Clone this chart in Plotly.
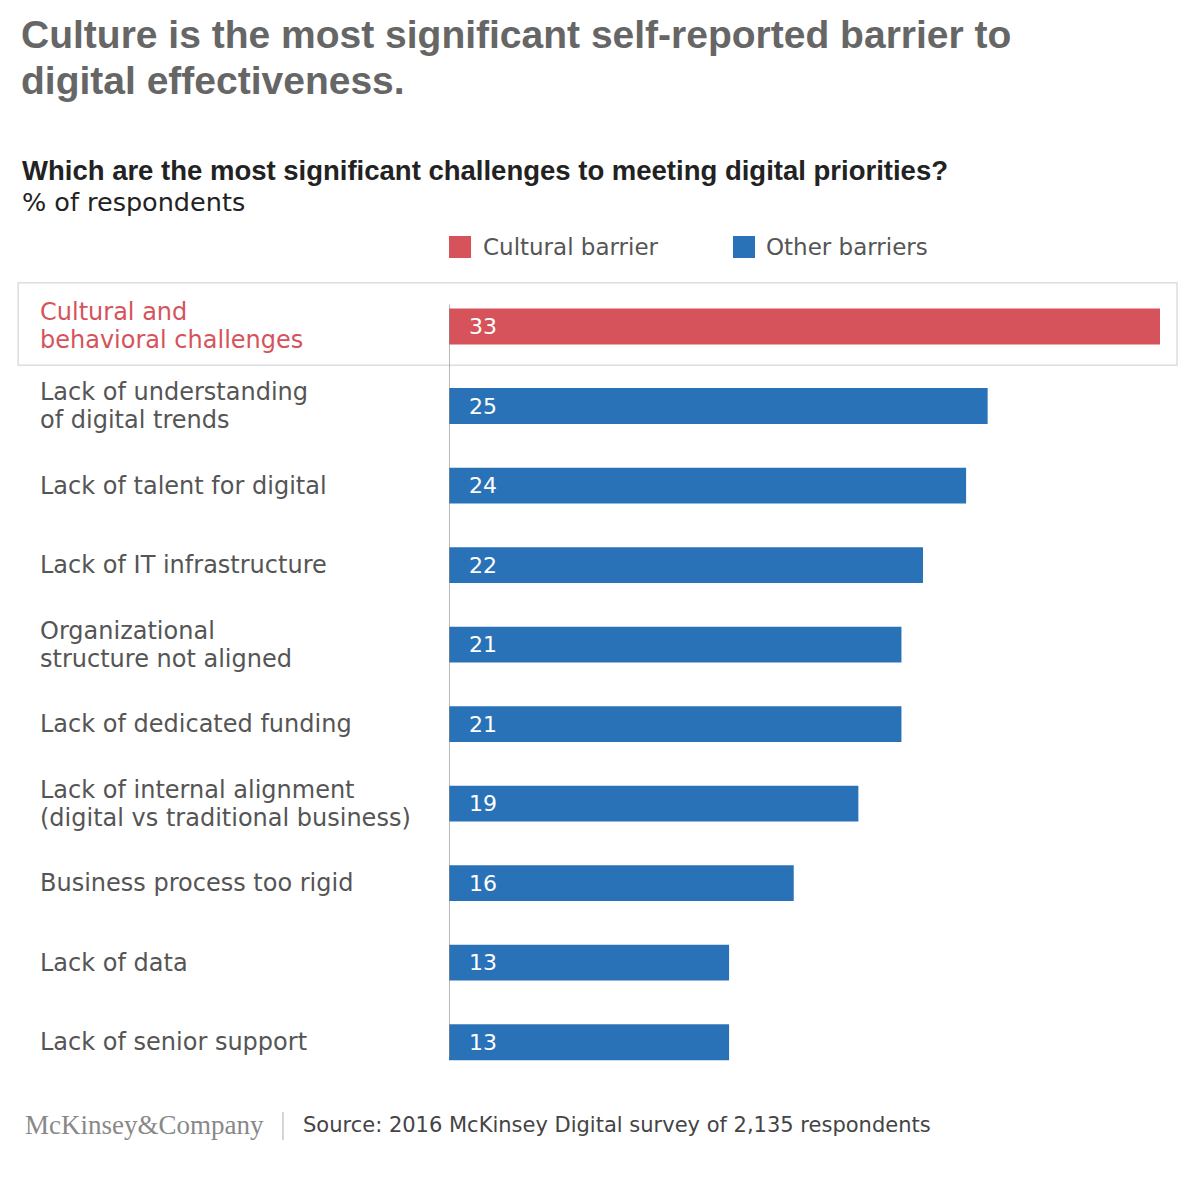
import plotly.graph_objects as go

# Data
categories = [
    "Cultural and<br>behavioral challenges",
    "Lack of understanding<br>of digital trends",
    "Lack of talent for digital",
    "Lack of IT infrastructure",
    "Organizational<br>structure not aligned",
    "Lack of dedicated funding",
    "Lack of internal alignment<br>(digital vs traditional business)",
    "Business process too rigid",
    "Lack of data",
    "Lack of senior support",
]
values = [33, 25, 24, 22, 21, 21, 19, 16, 13, 13]
barrier_type = ["Cultural barrier"] + ["Other barriers"] * 9

RED = "#D6535C"
BLUE = "#2A72B8"
GREY_TEXT = "#555555"
FONT = "DejaVu Sans, sans-serif"
TFONT = "Liberation Sans, Arial, sans-serif"

keys = [str(i) for i in range(len(categories))]
colors = [RED if b == "Cultural barrier" else BLUE for b in barrier_type]

fig = go.Figure()
fig.add_bar(
    x=values, y=keys, orientation="h",
    marker=dict(color=colors, line=dict(width=0)),
    width=0.45, showlegend=False, hoverinfo="x",
)

# value labels inside bars
for k, v in zip(keys, values):
    fig.add_annotation(x=0, y=k, xref="x", yref="y", text=str(v), showarrow=False,
                       xanchor="left", yanchor="middle", xshift=18,
                       font=dict(size=22, color="white", family=FONT))

# category labels on the left, one annotation per line (tighter line spacing)
for k, c, b in zip(keys, categories, barrier_type):
    lines = c.split("<br>")
    n = len(lines)
    for i, line in enumerate(lines):
        fig.add_annotation(x=-0.578, y=k, xref="paper", yref="y", text=line, showarrow=False,
                           xanchor="left", yanchor="middle", align="left",
                           yshift=(n - 1) / 2 * 28 - i * 28,
                           font=dict(size=24, color=RED if b == "Cultural barrier" else GREY_TEXT,
                                     family=FONT))

# highlight box around the cultural row
fig.add_shape(type="rect", xref="paper", yref="y", x0=-0.606, x1=1.024, y0=-0.55, y1=0.4875,
              line=dict(color="#DDDDDD", width=1.5), fillcolor="rgba(0,0,0,0)", layer="below")
# baseline
fig.add_shape(type="line", xref="x", yref="y", x0=0, x1=0, y0=-0.275, y1=9.2,
              line=dict(color="#888888", width=1.2))

# legend
fig.add_shape(type="rect", xref="paper", yref="paper", x0=0.0, x1=0.031, y0=1.03, y1=1.0575,
              fillcolor=RED, line=dict(width=0))
fig.add_annotation(x=0.045, y=1.04375, xref="paper", yref="paper", text="Cultural barrier",
                   showarrow=False, xanchor="left", yanchor="middle",
                   font=dict(size=23, color=GREY_TEXT, family=FONT))
fig.add_shape(type="rect", xref="paper", yref="paper", x0=0.3994, x1=0.4304, y0=1.03, y1=1.0575,
              fillcolor=BLUE, line=dict(width=0))
fig.add_annotation(x=0.443, y=1.04375, xref="paper", yref="paper", text="Other barriers",
                   showarrow=False, xanchor="left", yanchor="middle",
                   font=dict(size=23, color=GREY_TEXT, family=FONT))

# titles
title_lines = ["Culture is the most significant self-reported barrier to", "digital effectiveness."]
for y, line in zip([1.30875, 1.2525], title_lines):
    fig.add_annotation(x=-0.6045, y=y, xref="paper", yref="paper", text="<b>" + line + "</b>",
                       showarrow=False, xanchor="left", yanchor="middle",
                       font=dict(size=39, color="#666666", family=TFONT))
fig.add_annotation(x=-0.603, y=1.14, xref="paper", yref="paper",
                   text="<b>Which are the most significant challenges to meeting digital priorities?</b>",
                   showarrow=False, xanchor="left", yanchor="middle",
                   font=dict(size=27.5, color="#222222", family=TFONT))
fig.add_annotation(x=-0.603, y=1.10, xref="paper", yref="paper", text="% of respondents",
                   showarrow=False, xanchor="left", yanchor="middle",
                   font=dict(size=25.5, color="#222222", family=FONT))

# footer
fig.add_annotation(x=-0.5995, y=-0.05375, xref="paper", yref="paper", text="McKinsey&amp;Company",
                   showarrow=False, xanchor="left", yanchor="middle",
                   font=dict(size=27, color="#888888", family="Liberation Serif, serif"))
fig.add_shape(type="line", xref="paper", yref="paper", x0=-0.2335, x1=-0.2335, y0=-0.0725, y1=-0.0375,
              line=dict(color="#AAAAAA", width=1))
fig.add_annotation(x=-0.2075, y=-0.05375, xref="paper", yref="paper",
                   text="Source: 2016 McKinsey Digital survey of 2,135 respondents",
                   showarrow=False, xanchor="left", yanchor="middle",
                   font=dict(size=21, color="#444444", family=FONT))

fig.update_layout(
    width=1200, height=1186,
    margin=dict(l=449, r=40, t=282, b=104),
    paper_bgcolor="white", plot_bgcolor="white",
    xaxis=dict(range=[0, 33], visible=False, fixedrange=True),
    yaxis=dict(autorange="reversed", visible=False, categoryorder="array", categoryarray=keys,
               fixedrange=True),
)

fig.write_html("out.html", config={"displayModeBar": False},
               post_script="document.body.style.margin='0px';")
